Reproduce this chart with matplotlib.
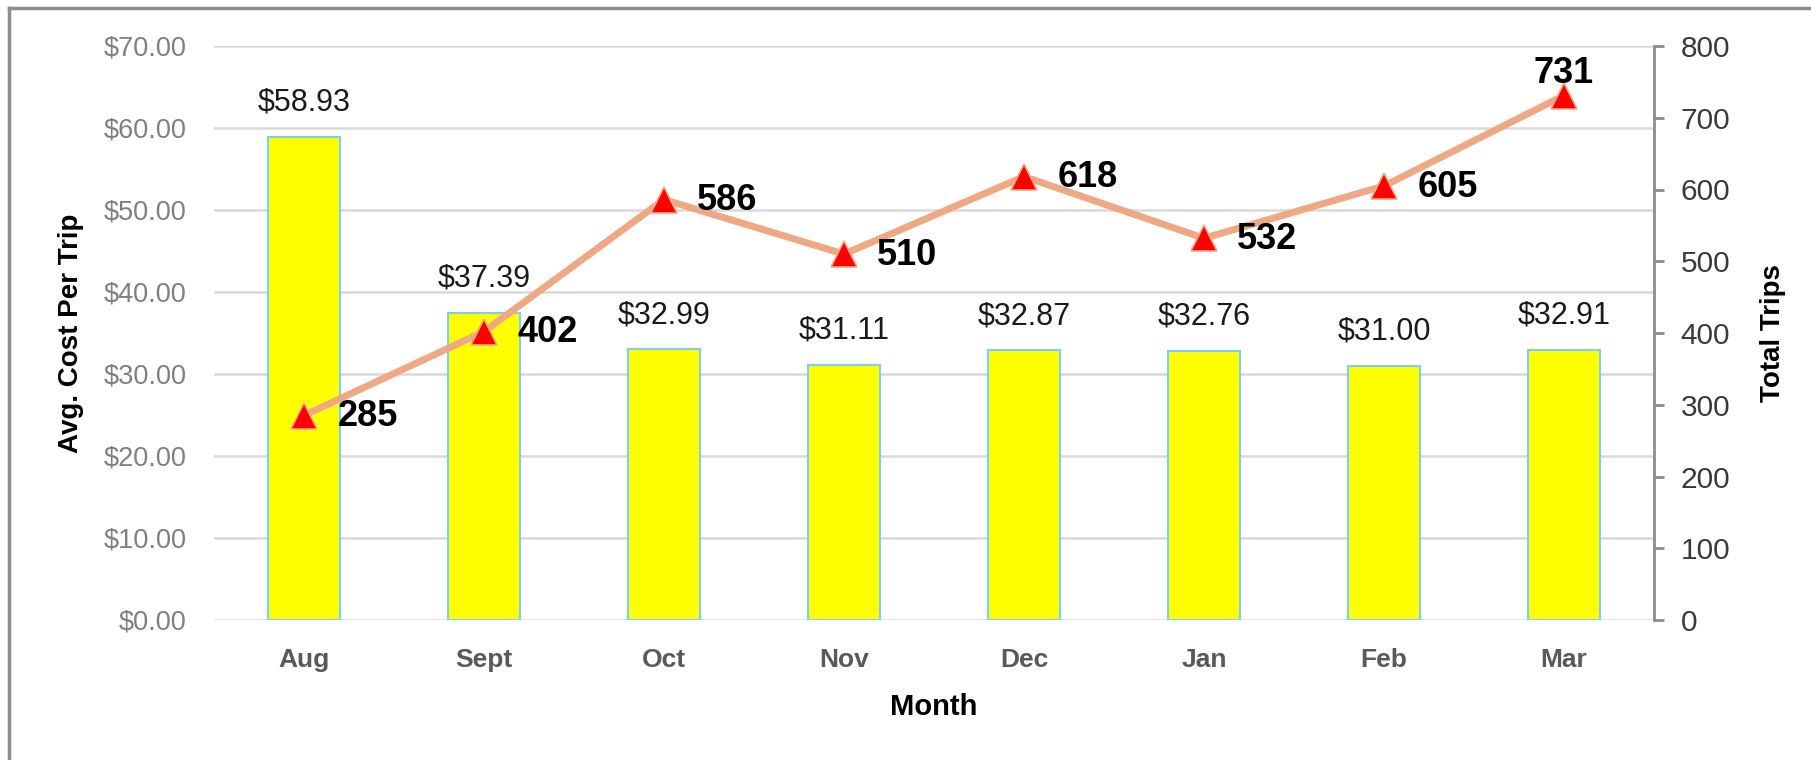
import matplotlib
matplotlib.use("Agg")
import matplotlib.pyplot as plt
from matplotlib.lines import Line2D

months = ["Aug", "Sept", "Oct", "Nov", "Dec", "Jan", "Feb", "Mar"]
avg_cost = [58.93, 37.39, 32.99, 31.11, 32.87, 32.76, 31.00, 32.91]
total_trips = [285, 402, 586, 510, 618, 532, 605, 731]
cost_ticks = [0, 10, 20, 30, 40, 50, 60, 70]
trip_ticks = [0, 100, 200, 300, 400, 500, 600, 700, 800]

plt.rcParams['font.family'] = ['Liberation Sans', 'DejaVu Sans']

fig = plt.figure(figsize=(18.11, 7.6), dpi=100)
ax = fig.add_axes([214 / 1811, 1 - 620 / 760, 1440 / 1811, 574 / 760])
ax2 = ax.twinx()

x = list(range(len(months)))
ax.bar(x, avg_cost, width=0.4, color="#FFFF00", edgecolor="#7CCFF2",
       linewidth=1.5, zorder=2)
ax.set_ylim(0, 70)
ax.set_xlim(-0.5, len(months) - 0.5)
ax.set_yticks(cost_ticks)
ax.set_yticklabels([f"${v:.2f}" for v in cost_ticks])
ax.set_axisbelow(True)
ax.yaxis.grid(True, color="#D9D9D9", linewidth=1.8)
ax.tick_params(axis="y", length=0, pad=20, labelsize=19.5, labelcolor="#7F7F7F")
ax.tick_params(axis="x", length=0, pad=20, labelsize=19, labelcolor="#595959")
ax.set_xticks(x)
ax.set_xticklabels(months, fontweight="bold")
for s in ax.spines.values():
    s.set_visible(False)

for xi, v in zip(x, avg_cost):
    ax.annotate(f"${v:.2f}", (xi, v), xytext=(0, 14), textcoords="offset points",
                ha="center", va="bottom", fontsize=22, color="#1a1a1a")

ax2.plot(x, total_trips, color="#F0A882", linewidth=5, marker="^",
         markersize=19, markerfacecolor="#FF0000", markeredgecolor="#F0A882",
         markeredgewidth=1.2, zorder=3)
ax2.set_ylim(0, 800)
ax2.set_yticks(trip_ticks)
for s in ["top", "left", "bottom"]:
    ax2.spines[s].set_visible(False)
ax2.spines["right"].set_color("#8C8C8C")
ax2.spines["right"].set_linewidth(2)
ax2.tick_params(axis="y", length=7, width=2, color="#8C8C8C", pad=12,
                labelsize=21.5, labelcolor="#3A3A3A")

for i, (xi, v) in enumerate(zip(x, total_trips)):
    if i == len(x) - 1:
        ax2.annotate(str(v), (xi, v), xytext=(0, 3), textcoords="offset points",
                     ha="center", va="bottom", fontsize=26, fontweight="bold",
                     color="black")
    else:
        ax2.annotate(str(v), (xi, v), xytext=(24, -1), textcoords="offset points",
                     ha="left", va="center", fontsize=26, fontweight="bold",
                     color="black")

ax.set_xlabel("Month", fontsize=21, fontweight="bold", color="black")
ax.xaxis.set_label_coords(0.5, -0.151)
ax.xaxis.label.set_va("center")
ax.set_ylabel("Avg. Cost Per Trip", fontsize=20, fontweight="bold", color="black")
ax.yaxis.set_label_coords(-0.099, 0.5)
ax.yaxis.label.set_va("center")
ax2.set_ylabel("Total Trips", fontsize=20, fontweight="bold", color="black",
               rotation=90)
ax2.yaxis.set_label_coords(1.0826, 0.5)
ax2.yaxis.label.set_va("center")

fig.add_artist(Line2D([9 / 1811, 9 / 1811], [0, 1 - 8 / 760], color="#8C8C8C",
                      linewidth=2.5, transform=fig.transFigure))
fig.add_artist(Line2D([9 / 1811, 1], [1 - 8 / 760, 1 - 8 / 760], color="#8C8C8C",
                      linewidth=2.5, transform=fig.transFigure))

fig.savefig("out.png", dpi=100, facecolor="white")
